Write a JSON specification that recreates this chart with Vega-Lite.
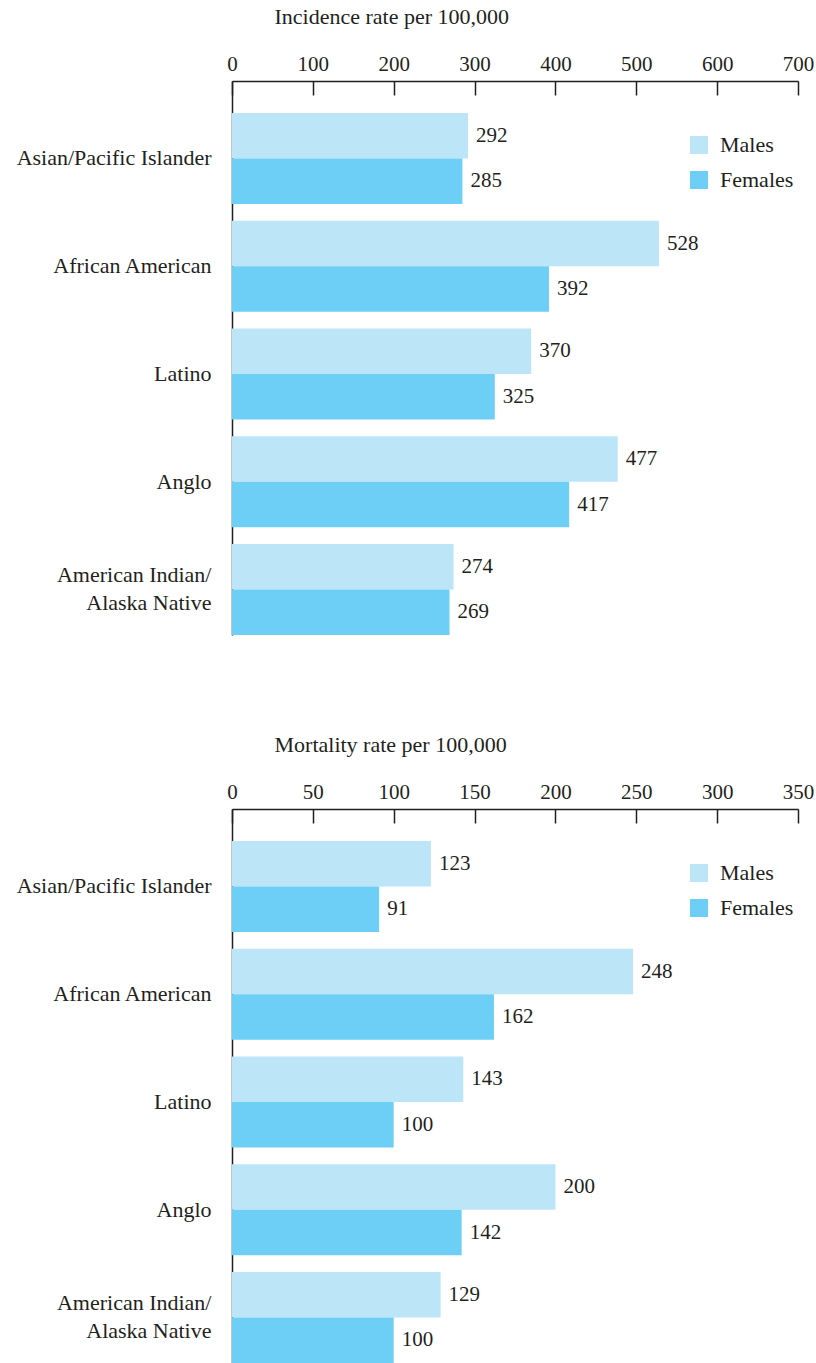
{
  "$schema": "https://vega.github.io/schema/vega-lite/v6.json",
  "padding": {"left": 16, "top": 5, "right": 0, "bottom": 0},
  "background": "white",
  "config": {
    "font": "Times New Roman, Liberation Serif, DejaVu Serif, serif",
    "view": {"stroke": null},
    "axis": {"grid": false, "domainColor": "#231f20", "domainWidth": 1.5, "tickColor": "#231f20", "tickWidth": 1.5, "labelColor": "#231f20", "titleColor": "#231f20", "labelFont": "Times New Roman, Liberation Serif, DejaVu Serif, serif", "titleFont": "Times New Roman, Liberation Serif, DejaVu Serif, serif", "labelFontSize": 21, "titleFontSize": 22, "titleFontWeight": "normal", "labelFlush": false, "labelLimit": 400},
    "legend": {"labelFont": "Times New Roman, Liberation Serif, DejaVu Serif, serif", "labelFontSize": 22, "labelColor": "#231f20"}
  },
  "datasets": {
    "incidence": [
      {"group": "Asian/Pacific Islander", "sex": "Males", "rate": 292},
      {"group": "Asian/Pacific Islander", "sex": "Females", "rate": 285},
      {"group": "African American", "sex": "Males", "rate": 528},
      {"group": "African American", "sex": "Females", "rate": 392},
      {"group": "Latino", "sex": "Males", "rate": 370},
      {"group": "Latino", "sex": "Females", "rate": 325},
      {"group": "Anglo", "sex": "Males", "rate": 477},
      {"group": "Anglo", "sex": "Females", "rate": 417},
      {"group": "American Indian/Alaska Native", "sex": "Males", "rate": 274},
      {"group": "American Indian/Alaska Native", "sex": "Females", "rate": 269}
    ],
    "mortality": [
      {"group": "Asian/Pacific Islander", "sex": "Males", "rate": 123},
      {"group": "Asian/Pacific Islander", "sex": "Females", "rate": 91},
      {"group": "African American", "sex": "Males", "rate": 248},
      {"group": "African American", "sex": "Females", "rate": 162},
      {"group": "Latino", "sex": "Males", "rate": 143},
      {"group": "Latino", "sex": "Females", "rate": 100},
      {"group": "Anglo", "sex": "Males", "rate": 200},
      {"group": "Anglo", "sex": "Females", "rate": 142},
      {"group": "American Indian/Alaska Native", "sex": "Males", "rate": 129},
      {"group": "American Indian/Alaska Native", "sex": "Females", "rate": 100}
    ]
  },
  "resolve": {"scale": {"color": "independent", "x": "independent"}},
  "spacing": 98,
  "vconcat": [
    {
      "width": 566,
      "height": 554,
      "data": {"name": "incidence"},
      "encoding": {
        "y": {"field": "group", "type": "nominal", "sort": null,
          "scale": {"paddingInner": 0.1555, "paddingOuter": 0.1485, "align": 1},
          "axis": {"title": null, "ticks": false, "labelPadding": 21, "labelFontSize": 22, "labelLineHeight": 28,
            "labelOffset": {"condition": {"test": "datum.value == 'American Indian/Alaska Native'", "value": -15}, "value": 0},
            "labelExpr": "datum.value == 'American Indian/Alaska Native' ? ['American Indian/', 'Alaska Native'] : datum.value"}},
        "yOffset": {"field": "sex", "sort": ["Males", "Females"], "scale": {"paddingInner": 0, "paddingOuter": 0}},
        "x": {"field": "rate", "type": "quantitative", "scale": {"domain": [0, 700], "nice": false},
          "axis": {"orient": "top", "values": [0, 100, 200, 300, 400, 500, 600, 700], "tickSize": -14, "labelPadding": 21,
            "title": "Incidence rate per 100,000", "titleAnchor": "start", "titleX": 42, "titlePadding": 25}}
      },
      "layer": [
        {"mark": {"type": "bar"},
          "encoding": {"color": {"field": "sex", "type": "nominal", "sort": ["Males", "Females"],
            "scale": {"domain": ["Males", "Females"], "range": ["#bce5f8", "#6dcff6"]},
            "legend": {"title": null, "orient": "none", "legendX": 456, "legendY": 53, "symbolType": "square", "symbolSize": 324, "symbolStrokeWidth": 0, "rowPadding": 13, "labelOffset": 10}}}},
        {"mark": {"type": "text", "align": "left", "baseline": "middle", "dx": 8, "fontSize": 21, "font": "Times New Roman, Liberation Serif, DejaVu Serif, serif", "color": "#231f20"},
          "encoding": {"text": {"field": "rate", "type": "quantitative"}}}
      ]
    },
    {
      "width": 566,
      "height": 554,
      "data": {"name": "mortality"},
      "encoding": {
        "y": {"field": "group", "type": "nominal", "sort": null,
          "scale": {"paddingInner": 0.1555, "paddingOuter": 0.1485, "align": 1},
          "axis": {"title": null, "ticks": false, "labelPadding": 21, "labelFontSize": 22, "labelLineHeight": 28,
            "labelOffset": {"condition": {"test": "datum.value == 'American Indian/Alaska Native'", "value": -15}, "value": 0},
            "labelExpr": "datum.value == 'American Indian/Alaska Native' ? ['American Indian/', 'Alaska Native'] : datum.value"}},
        "yOffset": {"field": "sex", "sort": ["Males", "Females"], "scale": {"paddingInner": 0, "paddingOuter": 0}},
        "x": {"field": "rate", "type": "quantitative", "scale": {"domain": [0, 350], "nice": false},
          "axis": {"orient": "top", "values": [0, 50, 100, 150, 200, 250, 300, 350], "tickSize": -14, "labelPadding": 21,
            "title": "Mortality rate per 100,000", "titleAnchor": "start", "titleX": 42, "titlePadding": 25}}
      },
      "layer": [
        {"mark": {"type": "bar"},
          "encoding": {"color": {"field": "sex", "type": "nominal", "sort": ["Males", "Females"],
            "scale": {"domain": ["Males", "Females"], "range": ["#bce5f8", "#6dcff6"]},
            "legend": {"title": null, "orient": "none", "legendX": 456, "legendY": 53, "symbolType": "square", "symbolSize": 324, "symbolStrokeWidth": 0, "rowPadding": 13, "labelOffset": 10}}}},
        {"mark": {"type": "text", "align": "left", "baseline": "middle", "dx": 8, "fontSize": 21, "font": "Times New Roman, Liberation Serif, DejaVu Serif, serif", "color": "#231f20"},
          "encoding": {"text": {"field": "rate", "type": "quantitative"}}}
      ]
    }
  ]
}
